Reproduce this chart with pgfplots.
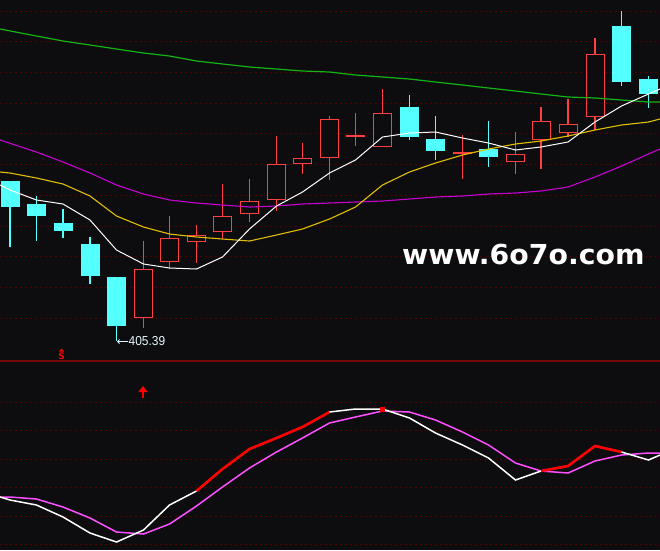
\documentclass[border=0pt]{standalone}
\usepackage{pgfplots}
\pgfplotsset{compat=1.18}
\usepackage{pgfplotstable}
\usepackage{fontspec}
\setmainfont{DejaVu Sans}
\newfontfamily\numfont{Liberation Sans}
\usetikzlibrary{arrows.meta}

\definecolor{bg}{RGB}{13,13,16}
\definecolor{gridc}{RGB}{85,0,0}
\definecolor{sepc}{RGB}{115,10,10}
\definecolor{upc}{RGB}{255,64,64}
\definecolor{dnc}{RGB}{84,255,255}
\definecolor{ma5}{RGB}{255,255,255}
\definecolor{ma10}{RGB}{225,190,0}
\definecolor{ma20}{RGB}{200,0,210}
\definecolor{ma60}{RGB}{20,180,20}
\definecolor{dline}{RGB}{255,80,255}
\definecolor{kred}{RGB}{255,0,0}

% candles in screen units (y grows downward): body top, body bottom, high, low
\pgfplotstableread{
x     top bot hi  lo
10    181 207 181 247
36.5  204 216 196 241
63    223 231 209 238
90    244 276 237 284
116.5 277 326 277 341
409.5 107 137  95 140
435.5 139 151 116 160
488.5 149 157 121 167
621.5  26  82  11  86
648.5  79  94  76 108
}\downK

\pgfplotstableread{
x     top bot hi  lo
143.5 269 318 241 328
169.5 238 262 216 269
196.5 235 242 225 263
222.5 216 232 184 239
249.5 201 214 179 222
276.5 164 200 136 211
302.5 158 164 143 174
329.5 119 158 116 180
355.5 135 137 113 146
382.5 113 147  89 147
462.5 152 154 135 179
515.5 154 162 132 174
541   121 140 107 169
568   124 133  99 137
595    54 117  38 130
}\upK

\begin{document}
\begin{tikzpicture}
\begin{axis}[
    scale only axis,
    width=660pt, height=550pt,
    xmin=0, xmax=660, ymin=0, ymax=550,
    y dir=reverse,
    axis background/.style={fill=bg},
    axis line style={draw=none},
    xtick=\empty,
    ytick={11,41.7,72.5,103.2,133.9,164.7,195.4,226.1,256.8,287.6,318.3,402.3,430.7,459,487.3,516,544.5},
    yticklabels={},
    major tick length=0pt,
    ymajorgrids,
    major grid style={draw=gridc, line width=0.9pt, dash pattern=on 2pt off 3pt},
    clip=true,
]
% panel separator
\addplot[sepc, line width=1.2pt] coordinates {(0,361) (660,361)};
% wicks
\addplot[draw=none, error bars/.cd, y dir=both, y explicit, error mark=none,
    error bar style={draw=dnc, line width=1.1pt}]
    table[x=x, y expr={(\thisrow{hi}+\thisrow{lo})/2}, y error expr={(\thisrow{lo}-\thisrow{hi})/2}] {\downK};
\addplot[draw=none, error bars/.cd, y dir=both, y explicit, error mark=none,
    error bar style={draw=upc, line width=1.1pt}]
    table[x=x, y expr={(\thisrow{hi}+\thisrow{lo})/2}, y error expr={(\thisrow{lo}-\thisrow{hi})/2}] {\upK};
% bodies
\addplot[draw=none, error bars/.cd, y dir=both, y explicit, error mark=none,
    error bar style={draw=dnc, line width=19pt}]
    table[x=x, y expr={(\thisrow{top}+\thisrow{bot})/2}, y error expr={(\thisrow{bot}-\thisrow{top})/2}] {\downK};
\addplot[draw=none, error bars/.cd, y dir=both, y explicit, error mark=none,
    error bar style={draw=upc, line width=19pt}]
    table[x=x, y expr={(\thisrow{top}+\thisrow{bot})/2}, y error expr={(\thisrow{bot}-\thisrow{top})/2}] {\upK};
\addplot[draw=none, error bars/.cd, y dir=both, y explicit, error mark=none,
    error bar style={draw=bg, line width=17pt}]
    table[x=x, y expr={(\thisrow{top}+\thisrow{bot})/2}, y error expr={max((\thisrow{bot}-\thisrow{top})/2-1,0)}] {\upK};

% moving averages
\addplot[ma60, line width=1.2pt] coordinates {(0,29) (36.5,36) (63,41) (90,45) (116.5,49) (143.5,53) (169.5,56) (196.5,61) (222.5,64) (249.5,67) (276.5,69) (302.5,71) (329.5,72) (355.5,75) (382.5,77) (409.5,79) (435.5,82) (462.5,85) (488.5,88) (515.5,91) (541,94) (568,97) (595,98) (621.5,100) (648.5,102) (660,102)};
\addplot[ma20, line width=1.1pt] coordinates {(0,140) (36.5,152) (63,162) (90,173) (116.5,185) (143.5,194) (169.5,200) (196.5,203) (222.5,205) (249.5,207) (276.5,206) (302.5,204) (329.5,203) (355.5,202) (382.5,201) (409.5,199) (435.5,197) (462.5,196) (488.5,194) (515.5,193) (541,191) (568,187) (595,177) (621.5,166) (648.5,154) (660,149)};
\addplot[ma10, line width=1.1pt] coordinates {(0,172) (10,173) (36.5,178) (63,184) (90,196) (116.5,216) (143.5,227) (169.5,234) (196.5,237) (222.5,239) (249.5,241) (276.5,235) (302.5,229) (329.5,219) (355.5,207) (382.5,185) (409.5,172) (435.5,163) (462.5,155) (488.5,149) (515.5,144) (541,141) (568,136) (595,130) (621.5,125) (648.5,122) (660,119)};
\addplot[ma5, line width=1pt] coordinates {(0,185) (10,190) (36.5,200) (63,204) (90,220) (116.5,250) (143.5,264) (169.5,268) (196.5,269) (222.5,257) (249.5,229) (276.5,206) (302.5,192) (329.5,173) (355.5,160) (382.5,137) (409.5,133) (435.5,132) (462.5,138) (488.5,143) (515.5,150) (541,147) (568,142) (595,122) (621.5,106) (648.5,94) (660,89)};

% lower panel
\addplot[dline, line width=1.5pt] coordinates {(0,497) (10,497) (36.5,499) (63,507) (90,518) (116.5,532) (143.5,534) (169.5,524) (196.5,506) (222.5,487) (249.5,468) (276.5,452) (302.5,438) (329.5,423) (355.5,417) (382.5,411) (409.5,412) (435.5,420) (462.5,432) (488.5,445) (515.5,463) (541,471) (568,473) (595,461) (621.5,455) (648.5,453) (660,453)};
\addplot[white, line width=1.5pt] coordinates {(0,497) (10,500) (36.5,505) (63,517) (90,533) (116.5,542) (143.5,530) (169.5,505) (196.5,491) (222.5,469) (249.5,449) (276.5,438) (302.5,427) (329.5,412) (355.5,409) (382.5,409) (409.5,418) (435.5,433) (462.5,445) (488.5,458) (515.5,480) (541,471) (568,466) (595,446) (621.5,452) (648.5,460) (660,455)};
\addplot[kred, line width=2.6pt] coordinates {(196.5,491) (222.5,469) (249.5,449) (276.5,438) (302.5,427) (329.5,412)};
\addplot[kred, line width=2.6pt] coordinates {(541,471) (568,466) (595,446) (621.5,452)};
\addplot[kred, only marks, mark=square*, mark size=2pt] coordinates {(382.5,409)};

% annotations
\draw[white!88!cyan, line width=0.8pt, -{Straight Barb[length=2pt,width=4pt]}] (axis cs:128,341.5) -- (axis cs:117,341.5);
\node[anchor=west, inner sep=0pt, text=white!90!cyan, font=\numfont\fontsize{13}{13}\selectfont, xscale=0.92] at (axis cs:128.5,341) {405.39};
\node[text=kred, inner sep=0pt, font=\fontsize{9}{9}\selectfont\bfseries] at (axis cs:61.5,356) {S};
\fill[kred] (axis cs:59,351.5) -- (axis cs:64,351.5) -- (axis cs:61.5,348.5) -- cycle;
\draw[kred, line width=2pt, -{Triangle[length=6pt,width=9pt]}] (axis cs:143,398) -- (axis cs:143,386);
\node[anchor=west, inner sep=0pt, text=white, font=\fontsize{27.5}{27.5}\selectfont\bfseries, xscale=1.03] at (axis cs:402,254.5) {www.6o7o.com};
\end{axis}
\pgfresetboundingbox
\useasboundingbox (current axis.south west) rectangle (current axis.north east);
\end{tikzpicture}
\end{document}
